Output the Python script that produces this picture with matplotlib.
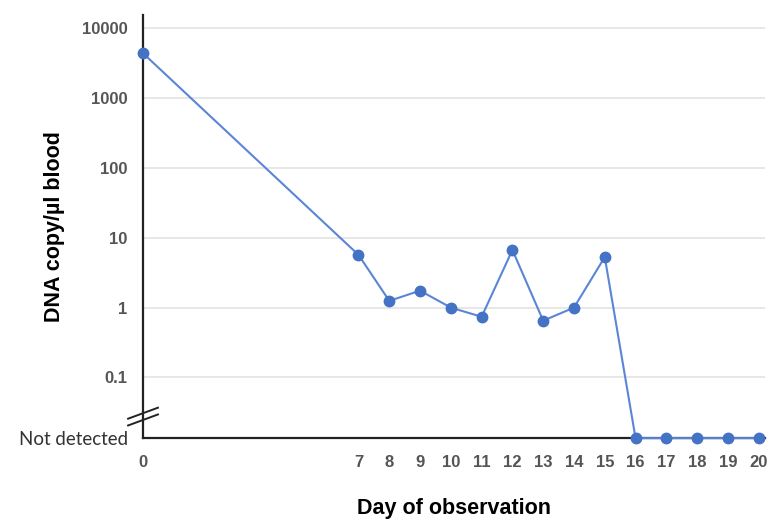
import numpy as np
import matplotlib.pyplot as plt

# days and DNA copies per ul blood; None = not detected
days = [0, 7, 8, 9, 10, 11, 12, 13, 14, 15, 16, 17, 18, 19, 20]
copies = [4400, 5.7, 1.25, 1.75, 1.0, 0.74, 6.7, 0.65, 1.0, 5.3,
          None, None, None, None, None]
xticks = days
ytick_vals = [0.1, 1, 10, 100, 1000, 10000]
ytick_labels = ["0.1", "1", "10", "100", "1000", "10000"]
nd_value = 0.0135  # where "Not detected" sits on the log axis

yy = [nd_value if c is None else c for c in copies]

fig = plt.figure(figsize=(7.71, 5.21), dpi=100)
ax = fig.add_axes([0.1855, 0.159, 0.8065, 0.812])

ax.set_yscale("log")
ax.set_xlim(0, 20.2)
ax.set_ylim(nd_value, 10 ** 4.19)

for v in ytick_vals:
    ax.axhline(v, color="#e3e3e3", lw=1.2, zorder=0)

ax.plot(days, yy, color="#5b85d6", lw=1.5, marker="o", ms=7.5,
        mfc="#4472c4", mec="#4472c4", clip_on=False, zorder=3)

for s in ["top", "right"]:
    ax.spines[s].set_visible(False)
ax.spines["left"].set_linewidth(1.6)
ax.spines["bottom"].set_linewidth(1.6)
ax.spines["left"].set_color("#222222")
ax.spines["bottom"].set_color("#222222")

ax.set_xticks(xticks)
ax.set_xticklabels([str(d) for d in xticks], fontsize=12, fontweight="bold",
                   color="#555555", family="Liberation Sans")
ax.set_yticks(ytick_vals + [nd_value])
ax.set_yticklabels(ytick_labels + ["Not detected"])
ax.minorticks_off()
for lab in ax.get_yticklabels()[:-1]:
    lab.set_fontsize(12)
    lab.set_fontweight("bold")
    lab.set_color("#555555")
    lab.set_family("Liberation Sans")
nd_lab = ax.get_yticklabels()[-1]
nd_lab.set_fontsize(13.5)
nd_lab.set_color("#333333")
nd_lab.set_family("Lato")
ax.tick_params(axis="both", length=0)
ax.tick_params(axis="y", pad=11)
ax.tick_params(axis="x", pad=12)

# axis break marks
for y0 in [0.043, 0.059]:
    ax.plot([-0.024, 0.024], [y0 - 0.013, y0 + 0.013], transform=ax.transAxes,
            color="#222222", lw=1.4, clip_on=False, zorder=4)

ax.set_xlabel("Day of observation", fontsize=15.5, fontweight="bold",
              family="Liberation Sans", labelpad=20)
ax.set_ylabel("DNA copy/\u00b5l blood", fontsize=15.5, fontweight="bold",
              family="Liberation Sans", labelpad=12)
ax.yaxis.set_label_coords(-0.125, 0.5)

fig.savefig("out.png", dpi=100)
